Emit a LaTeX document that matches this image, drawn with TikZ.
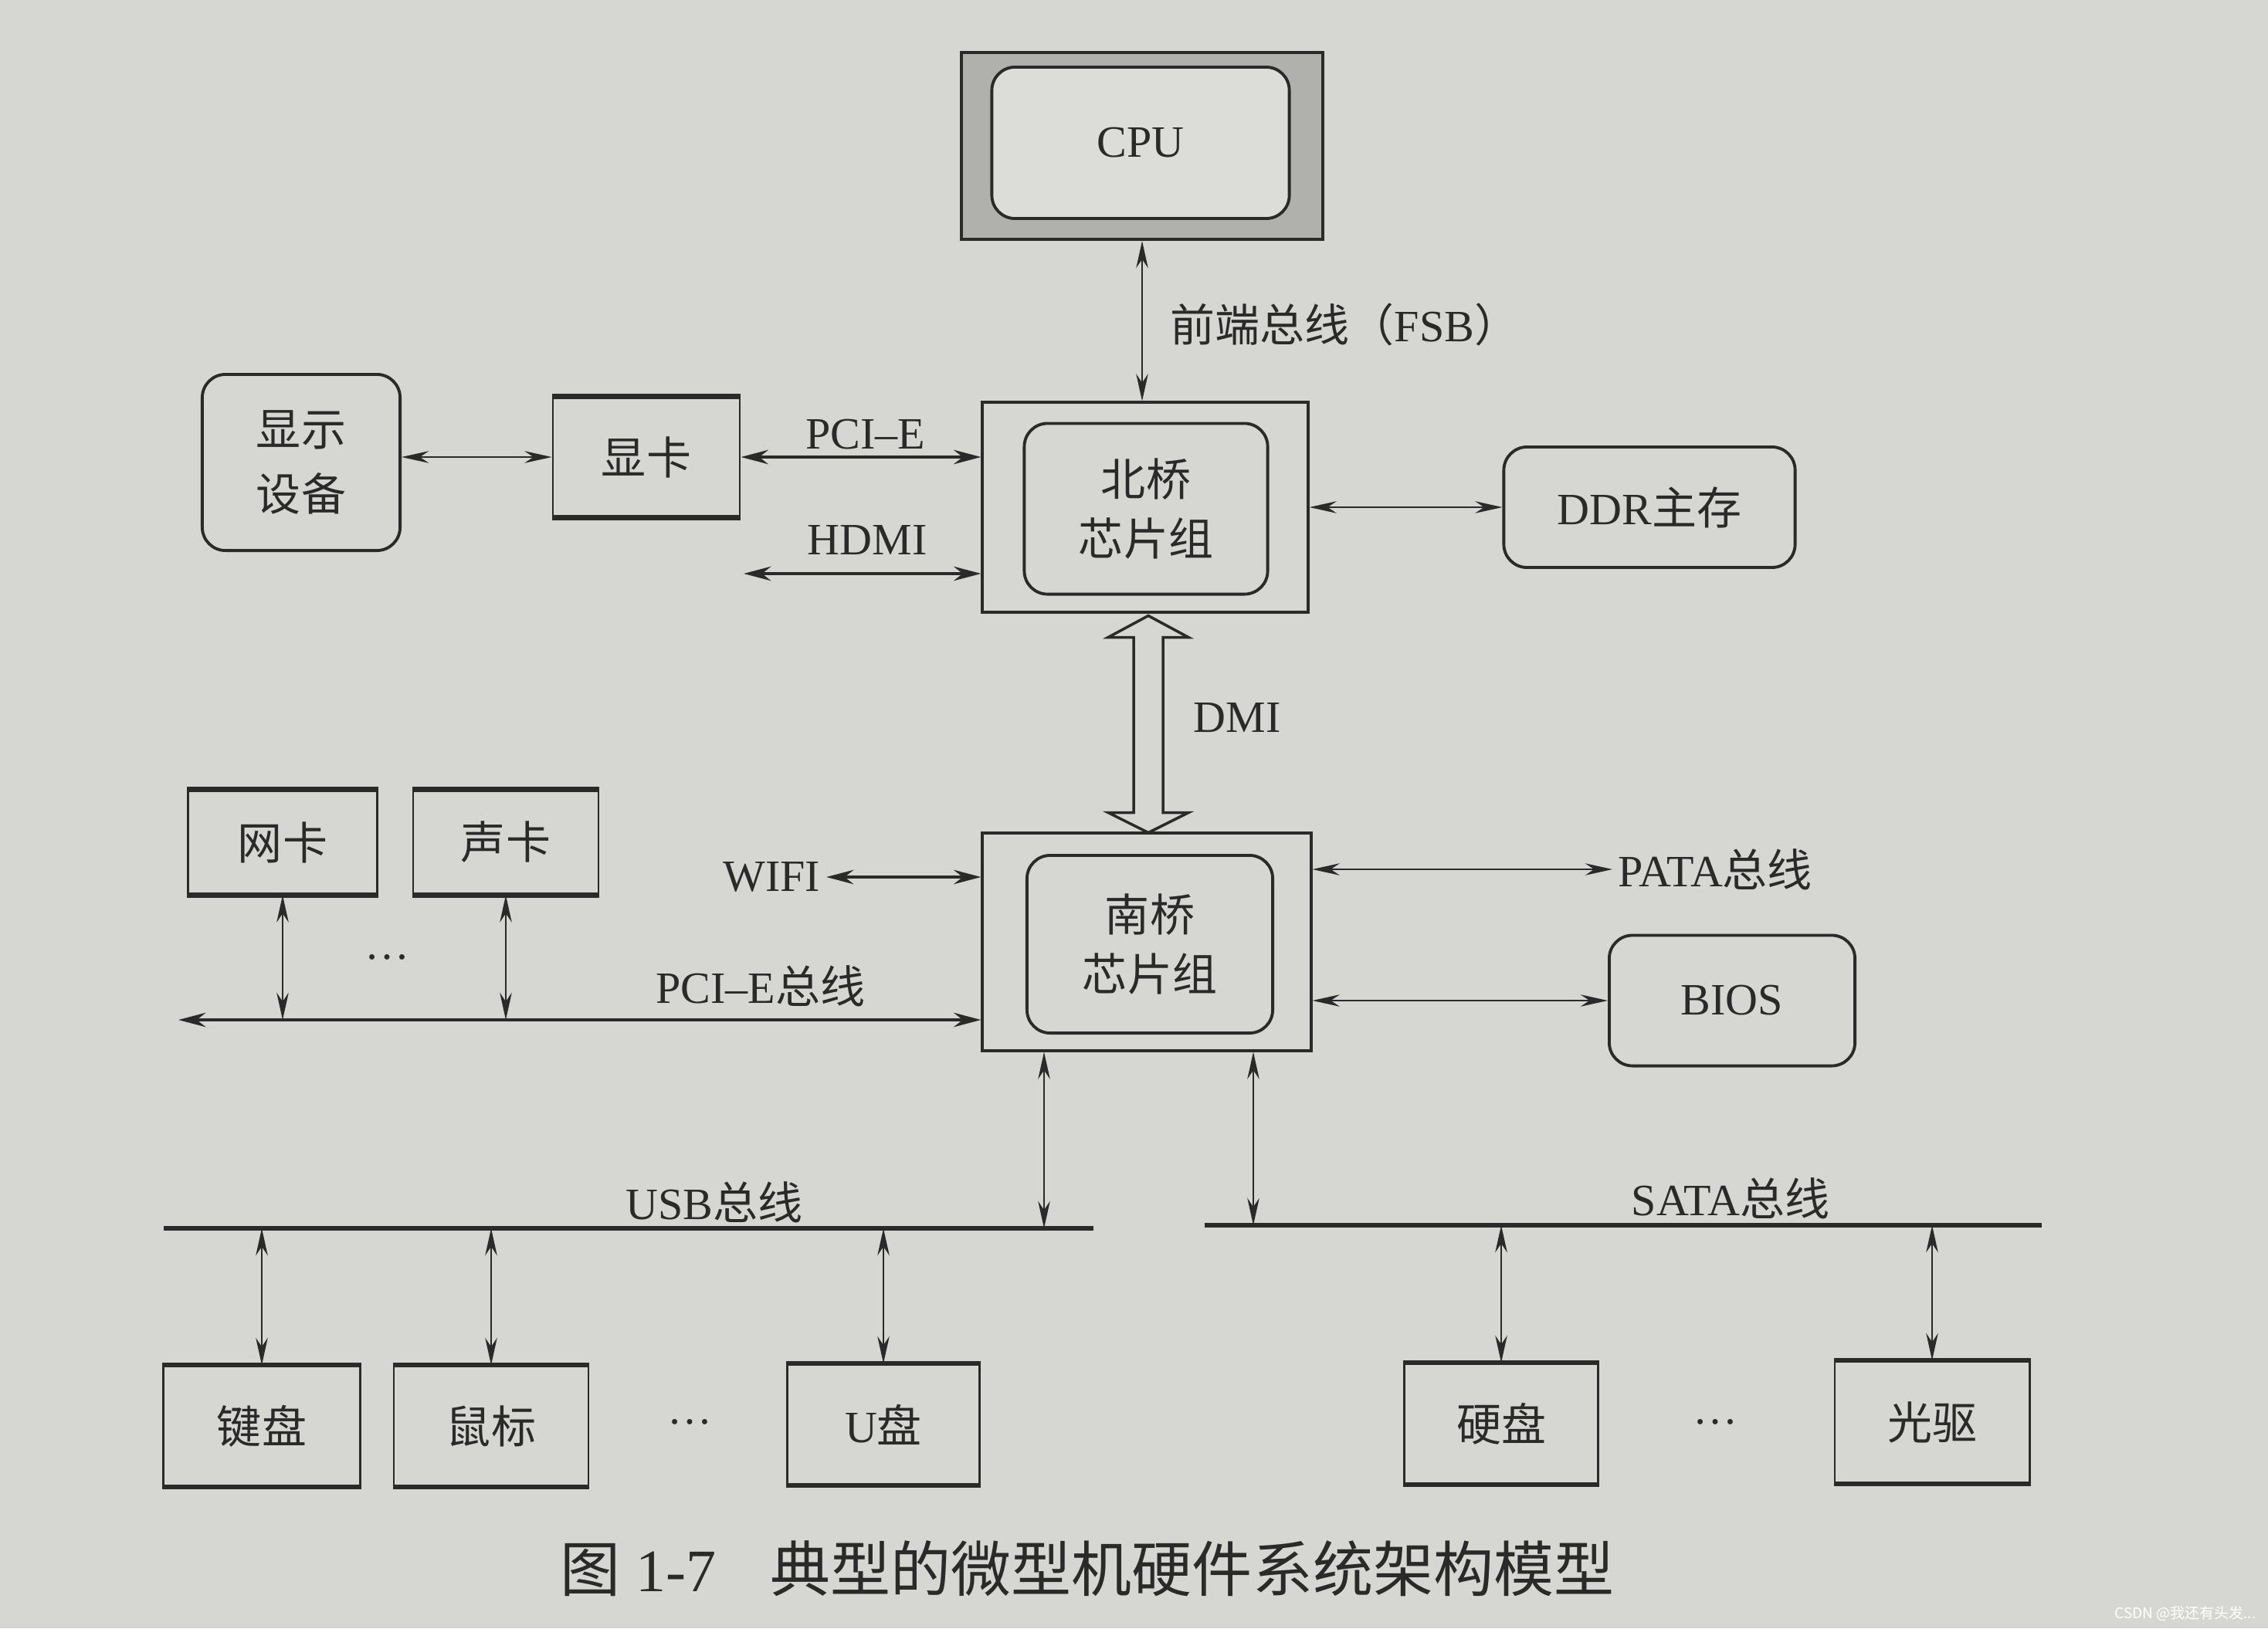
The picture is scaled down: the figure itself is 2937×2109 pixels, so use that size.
\documentclass[tikz,border=0pt]{standalone}
\usepackage{fontspec}
\usetikzlibrary{arrows.meta,calc}
\setmainfont{Liberation Serif}
\newfontfamily\cjk{Noto Sans CJK SC}
\newcommand{\zh}[1]{{\cjk #1}}
\definecolor{paper}{RGB}{214,214,210}
\definecolor{ink}{RGB}{42,42,42}
\definecolor{cpuring}{RGB}{176,176,172}
\definecolor{cpucore}{RGB}{220,220,216}
\tikzset{
  box/.style={draw=ink, line width=1.1pt, rectangle, inner sep=0pt,
              font=\fontsize{16.5}{22}\selectfont, text=ink, align=center},
  rbox/.style={box, rounded corners=0.3cm},
  barbox/.style={box, line width=0.8pt},
  baredge/.style={draw=ink, line width=1.9pt},
  lbl/.style={font=\fontsize{16.5}{20}\selectfont, text=ink, inner sep=2pt},
  bi/.style={draw=ink, line width=0.8pt, {Stealth[length=10pt,width=4.4pt]}-{Stealth[length=10pt,width=4.4pt]}},
  bithick/.style={draw=ink, line width=1.4pt, {Stealth[length=10pt,width=5.2pt]}-{Stealth[length=10pt,width=5.2pt]}},
  busline/.style={draw=ink, line width=1.6pt},
}
\begin{document}
\begin{tikzpicture}[x=0.01cm, y=-0.01cm]
  \fill[paper] (0,0) rectangle (2937,2109);
  \useasboundingbox (0,0) rectangle (2937,2109);

  % CPU and the two bridges
  \node[box, fill=cpuring, minimum width=4.68cm, minimum height=2.42cm] (cpu) at (1479,189) {};
  \node[rbox, fill=cpucore, minimum width=3.85cm, minimum height=1.96cm] (cpuin) at (1477,185) {CPU};
  \node[box, minimum width=4.21cm, minimum height=2.71cm] (nb) at (1483,657) {};
  \node[rbox, minimum width=3.15cm, minimum height=2.21cm] (nbin) at (1484,659) {\zh{北桥}\\\zh{芯片组}};
  \node[box, minimum width=4.25cm, minimum height=2.81cm] (sb) at (1485,1220) {};
  \node[rbox, minimum width=3.18cm, minimum height=2.30cm] (sbin) at (1489,1223) {\zh{南桥}\\\zh{芯片组}};

  % devices round the bridges
  \node[rbox, minimum width=3.77cm, minimum height=1.56cm] (ddr) at (2136,657) {DDR\zh{主存}};
  \node[rbox, minimum width=3.18cm, minimum height=1.69cm] (bios) at (2243,1296) {BIOS};
  \node[rbox, minimum width=2.56cm, minimum height=2.28cm, font=\fontsize{16.5}{24}\selectfont] (disp) at (390,599) {\zh{显示}\\\zh{设备}};
  \node[barbox, minimum width=2.42cm, minimum height=1.54cm] (gpu) at (837,592) {\zh{显卡}};
  \node[barbox, minimum width=2.45cm, minimum height=1.34cm] (nic) at (366,1091) {\zh{网卡}};
  \node[barbox, minimum width=2.40cm, minimum height=1.34cm] (snd) at (655,1091) {\zh{声卡}};

  % USB and SATA devices
  \node[barbox, minimum width=2.55cm, minimum height=1.55cm] (kbd) at (339,1847) {\zh{键盘}};
  \node[barbox, minimum width=2.52cm, minimum height=1.55cm] (mouse) at (636,1847) {\zh{鼠标}};
  \node[barbox, minimum width=2.49cm, minimum height=1.55cm] (udisk) at (1144,1845) {U\zh{盘}};
  \node[barbox, minimum width=2.51cm, minimum height=1.55cm] (hdd) at (1944,1844) {\zh{硬盘}};
  \node[barbox, minimum width=2.52cm, minimum height=1.57cm] (odd) at (2502,1842) {\zh{光驱}};
  \foreach \n in {gpu,nic,snd,kbd,mouse,udisk,hdd,odd}
    \draw[baredge] (\n.north west) -- (\n.north east) (\n.south west) -- (\n.south east);

  % bus ends
  \coordinate (hdmiL) at (963,743);
  \coordinate (pciL) at (231,1321);
  \coordinate (usbL) at (212,1591);
  \coordinate (usbR) at (1416,1591);
  \coordinate (usbtap) at (1352,1591);
  \coordinate (sataL) at (1560,1587);
  \coordinate (sataR) at (2644,1587);
  \coordinate (satatap) at (1623,1587);

  % labels
  \node[lbl, anchor=west] (fsb) at (1508,420) {\zh{前端总线（}FSB\zh{）}};
  \node[lbl] (pcie) at (1121,563) {PCI–E};
  \node[lbl] (hdmi) at (1123,700) {HDMI};
  \node[lbl] (dmi) at (1602,930) {DMI};
  \node[lbl, anchor=east] (wifi) at (1070,1136) {WIFI};
  \node[lbl, anchor=west] (pata) at (2088,1126) {PATA\zh{总线}};
  \node[lbl] (pcibus) at (985,1277) {PCI–E\zh{总线}};
  \node[lbl] (usb) at (925,1557) {USB\zh{总线}};
  \node[lbl] (sata) at (2241,1552) {SATA\zh{总线}};
  \node[lbl] (dots1) at (502,1240) {…};
  \node[lbl] (dots2) at (893,1842) {…};
  \node[lbl] (dots3) at (2221,1842) {…};
  \node[lbl, font=\fontsize{22.2}{26}\selectfont] (caption) at (1408,2032)
    {\zh{图} 1-7\hspace{0.9em}\zh{典型的微型机硬件系统架构模型}};
  \node[font=\fontsize{5.4}{6}\selectfont\cjk, text=white, anchor=east, inner sep=0pt] (mark) at (2922,2090) {CSDN @我还有头发...};

  % connections
  \draw[bi] (cpu.south) -- (cpu.south |- nb.north);
  \draw[bi] (disp.east |- gpu.west) -- (gpu.west);
  \draw[bithick] (gpu.east) -- (gpu.east -| nb.west);
  \draw[bithick] (hdmiL) -- (hdmiL -| nb.west);
  \draw[bi] (nb.east) -- (nb.east -| ddr.west);
  \draw[ink, line width=1pt, fill=paper] ($(nb.south)+(4,3)$) -- ++(52,28) -- ++(-33,0) -- ++(0,227)
    -- ++(33,0) -- ++(-52,26) -- ++(-52,-26) -- ++(33,0) -- ++(0,-227) -- ++(-33,0) -- cycle;
  \draw[bithick] (wifi.east) -- (wifi.east -| sb.west);
  \draw[bi] (sb.east |- pata.west) -- (pata.west);
  \draw[bi] (sb.east |- bios.west) -- (bios.west);
  \draw[bithick] (pciL) -- (pciL -| sb.west);
  \draw[bi] (nic.south) -- (nic.south |- pciL);
  \draw[bi] (snd.south) -- (snd.south |- pciL);
  \draw[busline] (usbL) -- (usbR);
  \draw[busline] (sataL) -- (sataR);
  \draw[bi] (usbtap |- sb.south) -- (usbtap);
  \draw[bi] (satatap |- sb.south) -- (satatap);
  \foreach \n in {kbd,mouse,udisk}
    \draw[bi] (\n.north) -- (\n.north |- usbL);
  \foreach \n in {hdd,odd}
    \draw[bi] (\n.north) -- (\n.north |- sataL);
\end{tikzpicture}
\end{document}
